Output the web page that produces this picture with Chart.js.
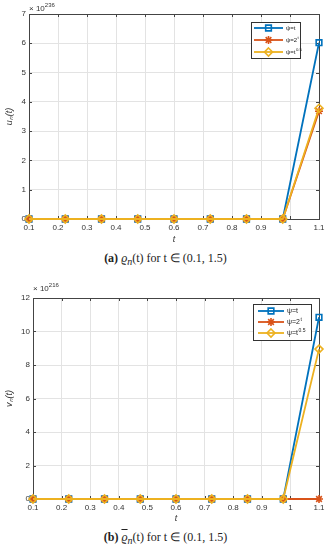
<!DOCTYPE html>
<html>
<head>
<meta charset="utf-8">
<script src="https://cdn.jsdelivr.net/npm/chart.js@4.4.0/dist/chart.umd.min.js"></script>
<style>
  body { margin: 0; background: #fff; width: 331px; height: 550px; position: relative; overflow: hidden;
         font-family: 'Liberation Sans', Arial, sans-serif; }
  .wrap { position: absolute; left: 0; width: 331px; }
  .expo { position: absolute; font-size: 8px; color: #333; white-space: nowrap; }
  .expo sup { font-size: 6px; }
  .cap { position: absolute; left: 0; width: 331px; text-align: center; font-family: 'Liberation Serif', serif;
         font-size: 12px; color: #222; }
  .ul { text-decoration: underline; }
  .ol { text-decoration: overline; }
</style>
</head>
<body>
<div class="wrap" style="top:0;height:245px"><canvas id="chartA" width="331" height="245"></canvas></div>
<div class="expo" style="left:29px;top:2px">× 10<sup>236</sup></div>
<div class="cap" style="top:251px"><b>(a)</b> <i><span class="ul">ϱ</span><sub>n</sub></i>(t) for t ∈ (0.1, 1.5)</div>

<div class="wrap" style="top:280px;height:244px"><canvas id="chartB" width="331" height="244"></canvas></div>
<div class="expo" style="left:33px;top:282px">× 10<sup>216</sup></div>
<div class="cap" style="top:530px"><b>(b)</b> <i><span class="ol">ϱ</span><sub>n</sub></i>(t) for t ∈ (0.1, 1.5)</div>

<script>
const tValues = [0.1, 0.225, 0.35, 0.475, 0.6, 0.725, 0.85, 0.975, 1.1];
const seriesNames = ['ψ=t', 'ψ=2^t', 'ψ=t^0.5'];

// (a) u_n(t), in units of 1e236
const uLinear = [0, 0, 0, 0, 0, 0, 0, 0, 6.02];
const uExp    = [0, 0, 0, 0, 0, 0, 0, 0, 3.68];
const uSqrt   = [0, 0, 0, 0, 0, 0, 0, 0, 3.78];

// (b) v_n(t), in units of 1e216
const vLinear = [0, 0, 0, 0, 0, 0, 0, 0, 10.85];
const vExp    = [0, 0, 0, 0, 0, 0, 0, 0, 0];
const vSqrt   = [0, 0, 0, 0, 0, 0, 0, 0, 8.95];

const colors = ['#0072BD', '#D95319', '#EDB120'];
const markers = ['rect', 'star', 'rectRot'];
const fontFam = "'Liberation Sans', Arial, sans-serif";

function drawMarker(ctx, style, x, y, r) {
    ctx.beginPath();
    if (style === 'rect') {
        const s = r * Math.SQRT1_2;
        ctx.rect(x - s, y - s, 2 * s, 2 * s);
    } else if (style === 'rectRot') {
        ctx.moveTo(x, y - r); ctx.lineTo(x + r, y); ctx.lineTo(x, y + r); ctx.lineTo(x - r, y); ctx.closePath();
    } else {
        for (let k = 0; k < 4; k++) {
            const a = k * Math.PI / 4;
            ctx.moveTo(x - r * Math.cos(a), y - r * Math.sin(a));
            ctx.lineTo(x + r * Math.cos(a), y + r * Math.sin(a));
        }
    }
    ctx.stroke();
}

// box around the plot plus inward ticks, like matlab
const boxPlugin = {
    id: 'boxPlugin',
    beforeDatasetsDraw(chart) {
        const ctx = chart.ctx, a = chart.chartArea;
        ctx.save();
        ctx.strokeStyle = '#444';
        ctx.lineWidth = 1;
        ctx.strokeRect(Math.round(a.left) + 0.5, Math.round(a.top) + 0.5,
            Math.round(a.right - a.left), Math.round(a.bottom - a.top));
        ctx.beginPath();
        chart.scales.x.ticks.forEach(t => {
            const px = Math.round(chart.scales.x.getPixelForValue(t.value)) + 0.5;
            ctx.moveTo(px, a.bottom); ctx.lineTo(px, a.bottom - 3);
            ctx.moveTo(px, a.top); ctx.lineTo(px, a.top + 3);
        });
        chart.scales.y.ticks.forEach(t => {
            const py = Math.round(chart.scales.y.getPixelForValue(t.value)) + 0.5;
            ctx.moveTo(a.left, py); ctx.lineTo(a.left + 3, py);
            ctx.moveTo(a.right, py); ctx.lineTo(a.right - 3, py);
        });
        ctx.stroke();
        ctx.restore();
    }
};

// legend with a frame, drawn inside the plot area
const boxLegend = {
    id: 'boxLegend',
    afterDraw(chart, args, o) {
        const ctx = chart.ctx, a = chart.chartArea;
        const x0 = Math.round(a.right - o.right - o.width), y0 = Math.round(a.top + o.top);
        ctx.save();
        ctx.fillStyle = '#fff';
        ctx.fillRect(x0, y0, o.width, o.height);
        ctx.strokeStyle = '#333';
        ctx.lineWidth = 1;
        ctx.strokeRect(x0 + 0.5, y0 + 0.5, o.width, o.height);
        chart.data.datasets.forEach((ds, i) => {
            const y = y0 + o.rowStart + i * o.rowGap;
            const lx = x0 + o.lineStart;
            ctx.strokeStyle = ds.borderColor;
            ctx.lineWidth = ds.borderWidth;
            ctx.beginPath(); ctx.moveTo(lx, y); ctx.lineTo(lx + o.lineLen, y); ctx.stroke();
            ctx.lineWidth = ds.pointBorderWidth;
            drawMarker(ctx, ds.pointStyle, lx + o.lineLen / 2, y, ds.pointRadius);
            const parts = ds.label.split('^');
            ctx.fillStyle = '#222';
            ctx.textBaseline = 'middle';
            ctx.font = o.fontSize + 'px ' + fontFam;
            const tx = lx + o.lineLen + 3;
            ctx.fillText(parts[0], tx, y);
            if (parts[1]) {
                const w = ctx.measureText(parts[0]).width;
                ctx.font = (o.fontSize * 0.72) + 'px ' + fontFam;
                ctx.fillText(parts[1], tx + w + 0.5, y - o.fontSize * 0.4);
            }
        });
        ctx.restore();
    }
};

function makeChart(id, series, yMax, yStep, yTitle, yWidth, xHeight, topPad, legendOpts) {
    const datasets = series.map((vals, i) => ({
        label: seriesNames[i],
        data: tValues.map((t, j) => ({ x: t, y: vals[j] })),
        borderColor: colors[i],
        backgroundColor: 'rgba(0,0,0,0)',
        borderWidth: 1.8,
        pointStyle: markers[i],
        pointRadius: 4,
        pointBorderWidth: 1.6,
        pointBackgroundColor: 'rgba(0,0,0,0)',
        pointBorderColor: colors[i],
        tension: 0,
        clip: false,
        order: 3 - i,
    }));

    return new Chart(document.getElementById(id), {
        type: 'line',
        data: { datasets: datasets },
        options: {
            responsive: false,
            animation: false,
            layout: { padding: { top: topPad, right: 12, left: 0, bottom: 0 } },
            plugins: {
                legend: { display: false },
                tooltip: { enabled: false },
                boxLegend: legendOpts,
            },
            scales: {
                x: {
                    type: 'linear', min: 0.1, max: 1.1,
                    ticks: {
                        stepSize: 0.1, autoSkip: false, maxRotation: 0, padding: 4,
                        color: '#333', font: { size: 8, family: fontFam },
                        callback: v => String(+v.toFixed(1)),
                    },
                    grid: { color: '#e3e3e3', drawTicks: false },
                    border: { display: false },
                    title: { display: true, text: 't', color: '#333', padding: 0,
                             font: { size: 9, style: 'italic', family: fontFam } },
                    afterFit: s => { s.height = xHeight; },
                },
                y: {
                    min: 0, max: yMax,
                    ticks: {
                        stepSize: yStep, padding: 3,
                        color: '#333', font: { size: 8, family: fontFam },
                    },
                    grid: { color: '#e3e3e3', drawTicks: false },
                    border: { display: false },
                    title: { display: true, text: yTitle, color: '#333', padding: { top: 4, bottom: 0 },
                             font: { size: 9, style: 'italic', family: fontFam } },
                    afterFit: s => { s.width = yWidth; },
                },
            },
        },
        plugins: [boxPlugin, boxLegend],
    });
}

makeChart('chartA', [uLinear, uExp, uSqrt], 7, 1, 'uₙ(t)', 29, 26, 14,
    { right: 19, top: 8, width: 49, height: 36, rowStart: 6, rowGap: 12, lineStart: 3, lineLen: 29, fontSize: 6 });

makeChart('chartB', [vLinear, vExp, vSqrt], 12, 2, 'vₙ(t)', 33, 25, 18,
    { right: 8, top: 6, width: 58, height: 36, rowStart: 7, rowGap: 11, lineStart: 5, lineLen: 26, fontSize: 7 });
</script>
</body>
</html>
